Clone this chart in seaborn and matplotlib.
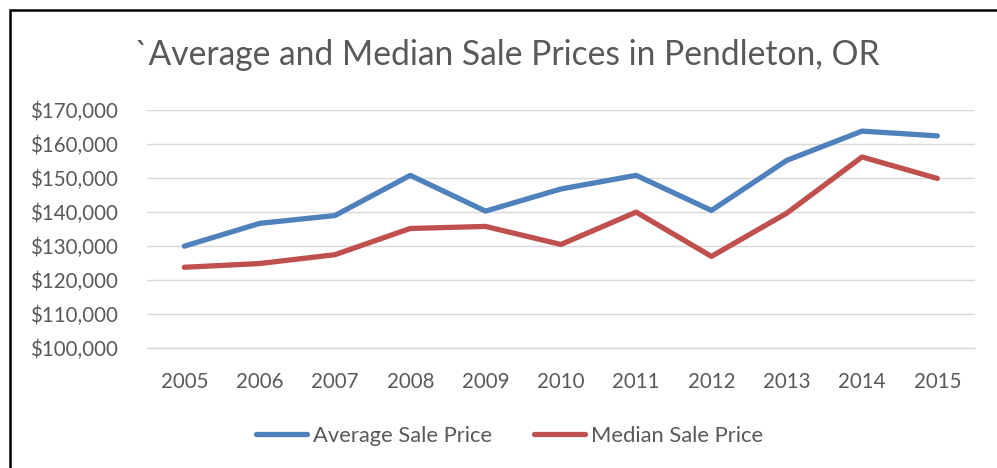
import matplotlib
matplotlib.use("Agg")
import matplotlib.pyplot as plt
import seaborn as sns
import pandas as pd
from matplotlib.patches import Rectangle
from matplotlib.ticker import FuncFormatter

years = ["2005", "2006", "2007", "2008", "2009", "2010", "2011", "2012", "2013", "2014", "2015"]
average_price = [130000, 136700, 139000, 150800, 140300, 146800, 150800, 140500, 155200, 163800, 162400]
median_price = [123800, 124900, 127500, 135200, 135800, 130500, 140000, 127000, 139700, 156200, 149900]
series_names = ["Average Sale Price", "Median Sale Price"]
title = "`Average and Median Sale Prices in Pendleton, OR"

df = pd.DataFrame({
    "Year": years * 2,
    "Price": average_price + median_price,
    "Series": [series_names[0]] * len(years) + [series_names[1]] * len(years),
})

sns.set_theme(style="white")
plt.rcParams["font.family"] = ["Lato", "DejaVu Sans"]
txt = "#595959"

fig = plt.figure(figsize=(9.97, 4.68), dpi=100)
ax = fig.add_axes([146.7 / 997, 1 - 348.3 / 468, (975 - 146.7) / 997, (348.3 - 110) / 468])

sns.lineplot(data=df, x="Year", y="Price", hue="Series", sort=False,
             palette=["#4F81BD", "#C0504D"], linewidth=3.8, ax=ax, legend=False,
             solid_capstyle="round", solid_joinstyle="round")

ax.set_xlim(-0.5, len(years) - 0.5)
ax.set_ylim(100000, 170000)
ax.set_yticks(range(100000, 170001, 10000))
ax.yaxis.set_major_formatter(FuncFormatter(lambda v, p: f"${v:,.0f}"))
ax.grid(axis="y", color="#D9D9D9", linewidth=1.0)
ax.grid(axis="x", visible=False)
ax.set_axisbelow(True)
for s in ["top", "right", "left"]:
    ax.spines[s].set_visible(False)
ax.spines["bottom"].set_color("#D9D9D9")
ax.spines["bottom"].set_linewidth(1.0)
ax.tick_params(axis="both", length=0, labelsize=14.8, colors=txt)
ax.tick_params(axis="y", pad=21)
ax.tick_params(axis="x", pad=17)
ax.set_xlabel("")
ax.set_ylabel("")

fig.text(0.5085, 1 - 65 / 468, title, ha="center", va="baseline", fontsize=24.2, color=txt)

handles = [plt.Line2D([], [], color=c, linewidth=3.8, solid_capstyle="round") for c in ["#4F81BD", "#C0504D"]]
fig.legend(handles, series_names, loc="center", bbox_to_anchor=(0.5115, 1 - 436 / 468), ncol=2,
           frameon=False, fontsize=15.8, labelcolor=txt, handlelength=2.3, handletextpad=0.3,
           columnspacing=1.9)

fig.patches.append(Rectangle((9.5 / 997, -0.1), 1.2, 1 - 10 / 468 + 0.1, transform=fig.transFigure,
                             fill=False, edgecolor="black", linewidth=1.8, figure=fig))

fig.savefig("out.png", dpi=100, facecolor="white")
